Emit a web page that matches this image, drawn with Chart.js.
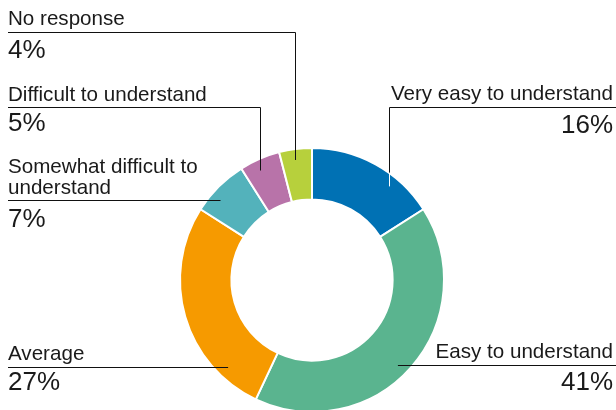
<!DOCTYPE html>
<html>
<head>
<meta charset="utf-8">
<script src="https://cdn.jsdelivr.net/npm/chart.js@4.4.1/dist/chart.umd.min.js"></script>
<style>
  html, body { margin: 0; padding: 0; background: #fff; overflow: hidden; }
  #wrap { position: relative; width: 616px; height: 424px; }
</style>
</head>
<body>
<div id="wrap"><canvas id="ratingChart"></canvas></div>
<script>
// chart data
const categories = ['Very easy to understand', 'Easy to understand', 'Average',
    'Somewhat difficult to understand', 'Difficult to understand', 'No response'];
const shares = [16, 41, 27, 7, 5, 4];
const sliceColors = ['#0071b4', '#5ab48f', '#f69a00', '#53b2bb', '#b873a9', '#b7d03c'];

// where each label sits (text lines, side, baselines, elbow of the leader line)
const labelLayout = [
    { lines: ['Very easy to understand'], side: 'right', nameY: [100], ruleY: 107.5, pctY: 133, elbowX: 389, whiteInside: true },
    { lines: ['Easy to understand'], side: 'right', nameY: [358], ruleY: 365.5, pctY: 390 },
    { lines: ['Average'], side: 'left', nameY: [360], ruleY: 367.5, pctY: 390 },
    { lines: ['Somewhat difficult to', 'understand'], side: 'left', nameY: [172.5, 194], ruleY: 200.5, pctY: 227 },
    { lines: ['Difficult to understand'], side: 'left', nameY: [100.5], ruleY: 107.5, pctY: 131, elbowX: 260 },
    { lines: ['No response'], side: 'left', nameY: [25], ruleY: 32.5, pctY: 58, elbowX: 295 }
];

const FONT = '"Liberation Sans", Arial, Helvetica, sans-serif';
const LEFT_X = 8, RIGHT_X = 613, EDGE = 616;

// draws labels and leader lines after the doughnut
const calloutPlugin = {
    id: 'callouts',
    afterDraw(chart) {
        const ctx = chart.ctx;
        const arcs = chart.getDatasetMeta(0).data;
        ctx.save();
        arcs.forEach((arc, i) => {
            const L = labelLayout[i];
            const cx = arc.x, cy = arc.y;
            const rEnd = arc.innerRadius + 0.79 * (arc.outerRadius - arc.innerRadius);
            ctx.lineWidth = 1;
            ctx.strokeStyle = '#111111';
            const startX = L.side === 'left' ? LEFT_X : EDGE;

            if (L.elbowX !== undefined) {
                const dx = L.elbowX - cx;
                const endY = cy - Math.sqrt(rEnd * rEnd - dx * dx);
                const outerY = cy - Math.sqrt(arc.outerRadius * arc.outerRadius - dx * dx);
                const x = Math.round(L.elbowX) + 0.5;
                ctx.beginPath();
                ctx.moveTo(startX, L.ruleY);
                ctx.lineTo(x, L.ruleY);
                ctx.lineTo(x, L.whiteInside ? outerY : endY);
                ctx.stroke();
                if (L.whiteInside) {
                    ctx.strokeStyle = '#ffffff';
                    ctx.beginPath();
                    ctx.moveTo(x, outerY);
                    ctx.lineTo(x, endY);
                    ctx.stroke();
                }
            } else {
                const dy = L.ruleY - cy;
                const dx = Math.sqrt(rEnd * rEnd - dy * dy);
                const endX = L.side === 'left' ? cx - dx : cx + dx;
                ctx.beginPath();
                ctx.moveTo(startX, L.ruleY);
                ctx.lineTo(endX, L.ruleY);
                ctx.stroke();
            }

            ctx.fillStyle = '#1a1a1a';
            ctx.textBaseline = 'alphabetic';
            ctx.textAlign = L.side === 'left' ? 'left' : 'right';
            const tx = L.side === 'left' ? LEFT_X : RIGHT_X;
            ctx.font = '20.6px ' + FONT;
            L.lines.forEach((t, k) => ctx.fillText(t, tx, L.nameY[k]));
            ctx.font = '26px ' + FONT;
            ctx.fillText(shares[i] + '%', tx, L.pctY);
        });
        ctx.restore();
    }
};

const ctx = document.getElementById('ratingChart').getContext('2d');
const ratingChart = new Chart(ctx, {
    type: 'doughnut',
    data: {
        labels: categories,
        datasets: [{
            data: shares,
            backgroundColor: sliceColors,
            borderColor: '#ffffff',
            borderWidth: 2
        }]
    },
    options: {
        responsive: true,
        maintainAspectRatio: false,
        animation: false,
        cutout: 80,
        radius: 132,
        layout: { padding: { left: 180, right: 172, top: 148, bottom: 12 } },
        plugins: {
            legend: { display: false },
            tooltip: { enabled: false }
        }
    },
    plugins: [calloutPlugin]
});
</script>
</body>
</html>
